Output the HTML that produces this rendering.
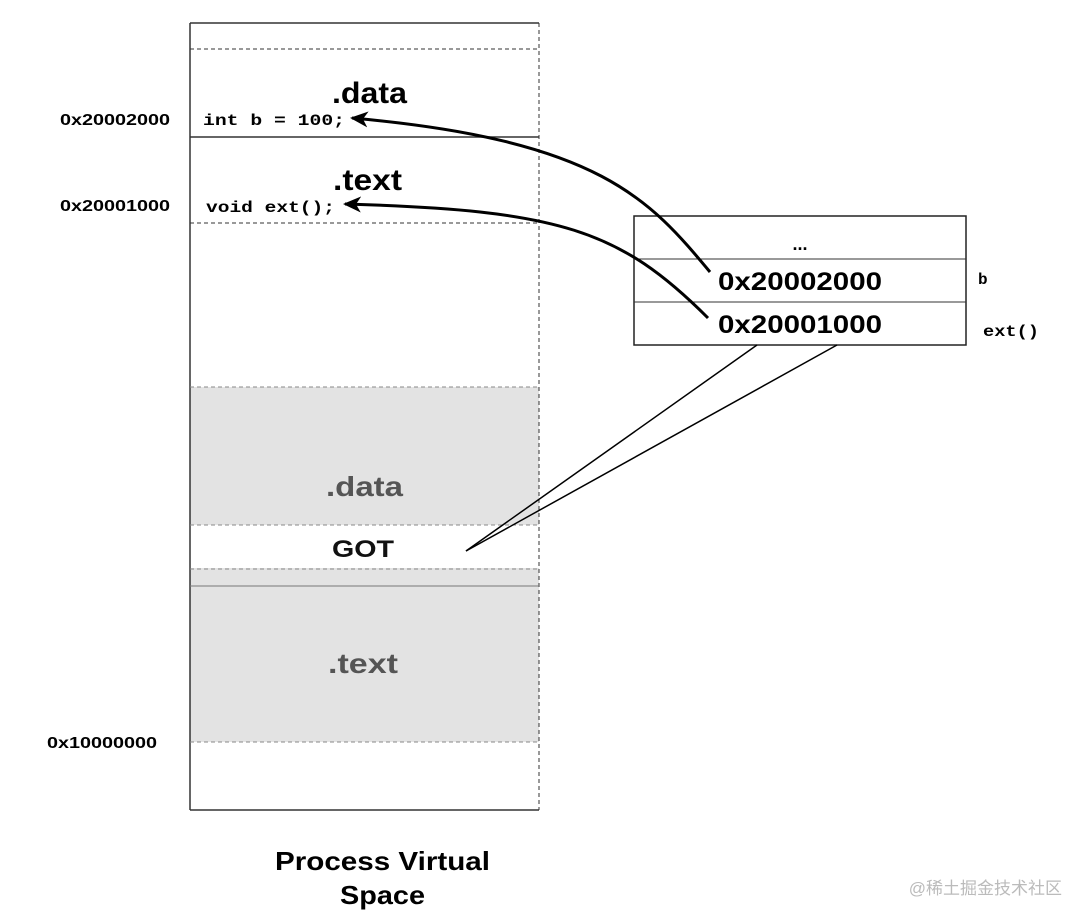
<!DOCTYPE html>
<html><head><style>
body{margin:0;background:#fff;width:1082px;height:924px;overflow:hidden}
svg{display:block}
</style></head><body>
<svg width="1082" height="924" viewBox="0 0 1082 924" xmlns="http://www.w3.org/2000/svg" font-family="Liberation Sans, sans-serif">
<defs><marker id="ah" markerWidth="20" markerHeight="16" refX="16" refY="8" orient="auto" markerUnits="userSpaceOnUse"><path d="M0,0 L18,8 L0,16 L5,8 Z" fill="#000"/></marker></defs>
<rect x="190" y="387" width="349" height="138" fill="#e3e3e3"/>
<rect x="190" y="568" width="349" height="174" fill="#e3e3e3"/>
<g stroke="#333" fill="none">
<line x1="190" y1="23" x2="539" y2="23" stroke-width="1.5"/>
<line x1="190" y1="23" x2="190" y2="810" stroke-width="1.5"/>
<line x1="539" y1="23" x2="539" y2="810" stroke-dasharray="4 3"/>
<line x1="190" y1="810" x2="539" y2="810" stroke-width="1.5"/>
<line x1="190" y1="49" x2="539" y2="49" stroke-dasharray="4 3"/>
<line x1="190" y1="137" x2="539" y2="137" stroke-width="1.5"/>
<line x1="190" y1="223" x2="539" y2="223" stroke-dasharray="4 3"/>
<line x1="190" y1="387" x2="539" y2="387" stroke-dasharray="4 3" stroke="#888"/>
<line x1="190" y1="525" x2="539" y2="525" stroke-dasharray="4 3" stroke="#888"/>
<line x1="190" y1="569" x2="539" y2="569" stroke-dasharray="4 3" stroke="#888"/>
<line x1="190" y1="586" x2="539" y2="586" stroke="#777"/>
<line x1="190" y1="742" x2="539" y2="742" stroke-dasharray="4 3" stroke="#888"/>
<rect x="634" y="216" width="332" height="129" stroke-width="1.5" stroke="#222"/>
<line x1="634" y1="259" x2="966" y2="259"/>
<line x1="634" y1="302" x2="966" y2="302"/>
</g>
<g font-weight="bold" fill="#000">
<text x="332" y="103" font-size="30" textLength="75" lengthAdjust="spacingAndGlyphs">.data</text>
<text x="333" y="190" font-size="30" textLength="69" lengthAdjust="spacingAndGlyphs">.text</text>
<text x="326" y="496" font-size="28" fill="#555" textLength="77" lengthAdjust="spacingAndGlyphs">.data</text>
<text x="332" y="557" font-size="24" fill="#111" textLength="62" lengthAdjust="spacingAndGlyphs">GOT</text>
<text x="328" y="673" font-size="28" fill="#555" textLength="70" lengthAdjust="spacingAndGlyphs">.text</text>
<text x="60" y="125" font-size="16" textLength="110" lengthAdjust="spacingAndGlyphs">0x20002000</text>
<text x="60" y="211" font-size="16" textLength="110" lengthAdjust="spacingAndGlyphs">0x20001000</text>
<text x="47" y="748" font-size="16" textLength="110" lengthAdjust="spacingAndGlyphs">0x10000000</text>
<text x="800" y="250" font-size="18" text-anchor="middle">...</text>
<text x="718" y="290" font-size="25" textLength="164" lengthAdjust="spacingAndGlyphs">0x20002000</text>
<text x="718" y="333" font-size="25" textLength="164" lengthAdjust="spacingAndGlyphs">0x20001000</text>
<text x="275" y="870" font-size="26" textLength="215" lengthAdjust="spacingAndGlyphs">Process Virtual</text>
<text x="340" y="904" font-size="26" textLength="85" lengthAdjust="spacingAndGlyphs">Space</text>
</g>
<g font-family="Liberation Mono, monospace" font-weight="bold" font-size="16" fill="#000">
<text x="203" y="125" textLength="142" lengthAdjust="spacingAndGlyphs">int b = 100;</text>
<text x="206" y="212" textLength="129" lengthAdjust="spacingAndGlyphs">void ext();</text>
<text x="978" y="284">b</text>
<text x="983" y="336" textLength="56" lengthAdjust="spacingAndGlyphs">ext()</text>
</g>
<g stroke="#000" fill="none" stroke-width="3">
<path d="M710,272 C650,200 600,140 352,118" marker-end="url(#ah)"/>
<path d="M708,318 C620,230 560,210 345,204" marker-end="url(#ah)"/>
</g>
<g stroke="#000" stroke-width="1.5">
<line x1="466" y1="551" x2="757" y2="345"/>
<line x1="466" y1="551" x2="837" y2="345"/>
</g>
<text x="1062" y="894" font-size="17" fill="#bbb" text-anchor="end" font-family="Liberation Sans, Noto Sans CJK SC, sans-serif">@稀土掘金技术社区</text>
</svg>
</body></html>
